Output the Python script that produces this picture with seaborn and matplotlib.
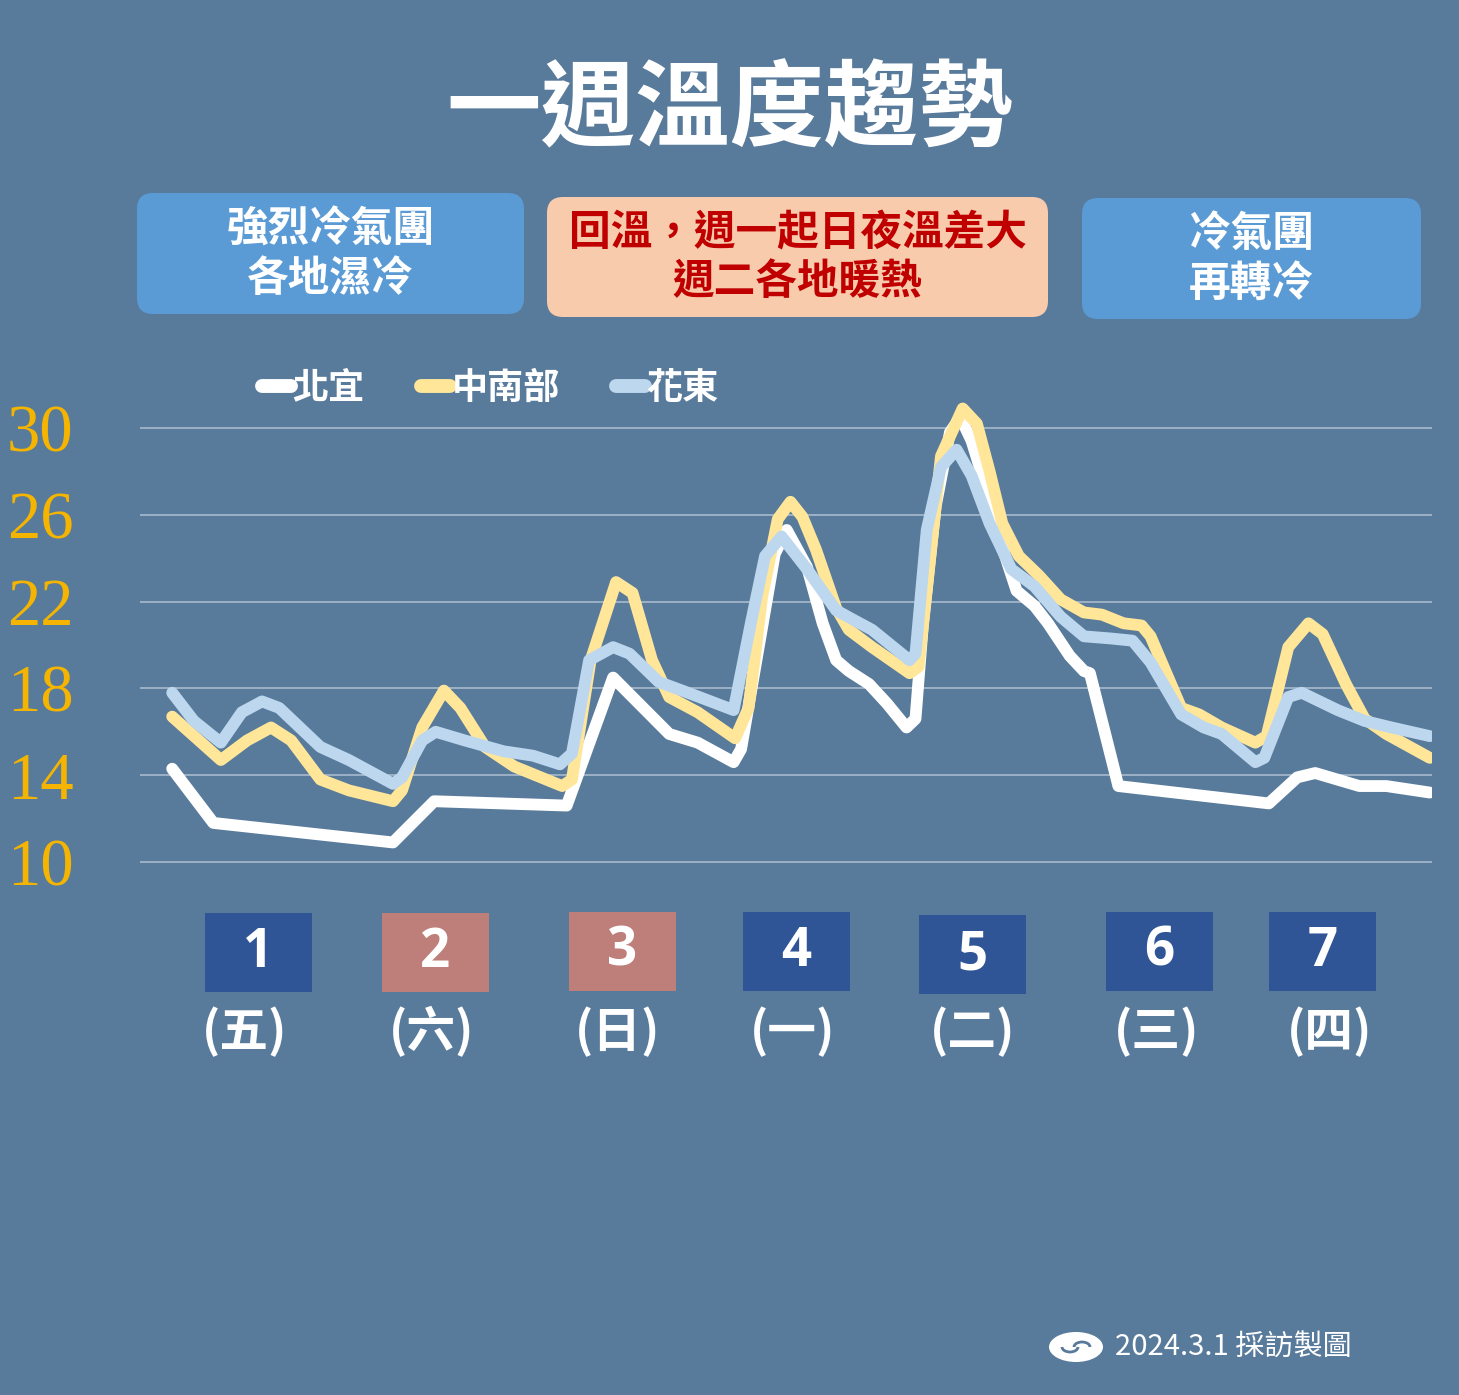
import matplotlib
matplotlib.use("Agg")
import matplotlib.pyplot as plt
from matplotlib.patches import FancyBboxPatch, Rectangle, Ellipse, Arc
import seaborn as sns
import pandas as pd

# 時間 (小時，從第一天起算) 與溫度 (°C)
t_beiyi = [0, 5.5, 29.5, 35.0, 52.7, 58.9, 66.4, 70.2, 75.0, 76.0, 80.5, 82.1, 84.8, 86.9,
           88.7, 90.4, 93.1, 95.5, 98.1, 99.3, 100.3, 102.0, 103.9, 105.3, 106.8, 109.2,
           110.9, 112.8, 115.2, 117.0, 119.9, 121.8, 122.6, 126.4, 146.5, 150.3, 152.7,
           158.6, 162.2, 168.0]
temp_beiyi = [14.3, 11.8, 10.9, 12.8, 12.6, 18.5, 15.9, 15.5, 14.6, 15.2, 24.2, 25.3, 23.6, 21.0,
              19.3, 18.8, 18.2, 17.3, 16.2, 16.6, 21.0, 26.4, 29.8, 30.5, 29.4, 26.7,
              24.5, 22.5, 21.8, 21.0, 19.5, 18.8, 18.7, 13.5, 12.7, 13.9, 14.1,
              13.5, 13.5, 13.2]

t_central = [0, 6.5, 10.0, 13.2, 15.9, 19.8, 23.6, 29.5, 30.7, 33.4, 36.3, 38.5, 41.8, 45.7,
             52.1, 53.4, 55.9, 59.3, 61.5, 64.1, 66.4, 70.2, 75.2, 77.0, 78.8, 80.9, 82.6,
             84.2, 86.0, 88.7, 90.4, 93.5, 98.5, 99.7, 100.8, 102.7, 105.6, 107.5, 109.2,
             110.9, 113.1, 115.8, 118.7, 121.8, 124.2, 127.1, 129.5, 130.7, 134.8, 137.2,
             140.2, 144.7, 146.2, 149.1, 151.8, 153.7, 156.8, 159.3, 162.2, 168.0]
temp_central = [16.7, 14.7, 15.6, 16.2, 15.6, 13.8, 13.3, 12.8, 13.3, 16.2, 17.9, 17.1, 15.3, 14.4,
                13.5, 13.8, 19.3, 22.9, 22.4, 19.3, 17.6, 16.9, 15.7, 17.1, 22.2, 25.8, 26.6,
                25.9, 24.4, 21.7, 20.7, 19.9, 18.7, 19.0, 22.5, 28.7, 30.9, 30.2, 28.0,
                25.6, 24.1, 23.2, 22.1, 21.5, 21.4, 21.0, 20.9, 20.4, 17.1, 16.8,
                16.2, 15.5, 15.8, 19.9, 21.0, 20.5, 18.2, 16.6, 15.9, 14.8]

t_east = [0, 2.9, 6.5, 9.3, 12.0, 14.3, 19.8, 23.6, 29.5, 30.7, 33.4, 35.2, 39.1, 44.3, 48.2,
          51.8, 53.4, 55.7, 58.9, 61.1, 65.0, 68.9, 75.0, 77.3, 79.2, 81.4, 84.8, 88.7, 90.8,
          93.5, 98.5, 99.3, 100.8, 102.7, 104.8, 106.8, 109.2, 112.1, 115.2, 118.7, 121.8,
          125.4, 128.3, 130.7, 134.8, 137.8, 140.2, 144.7, 145.9, 149.1, 150.9, 155.7,
          159.3, 162.9, 168.0]
temp_east = [17.8, 16.5, 15.5, 16.9, 17.4, 17.1, 15.3, 14.7, 13.6, 13.9, 15.6, 16.0, 15.6, 15.1, 14.9,
             14.5, 15.0, 19.3, 19.9, 19.6, 18.3, 17.8, 17.0, 21.0, 24.1, 25.0, 23.5, 21.6, 21.2,
             20.7, 19.3, 19.6, 25.3, 28.2, 29.0, 27.8, 25.6, 23.5, 22.7, 21.3, 20.4,
             20.3, 20.2, 19.2, 16.8, 16.2, 15.9, 14.6, 14.8, 17.6, 17.8, 17.0,
             16.5, 16.2, 15.8]

series_names = ['北宜', '中南部', '花東']
y_ticks = [10, 14, 18, 22, 26, 30]

day_nums = ['1', '2', '3', '4', '5', '6', '7']
weekdays = ['(五)', '(六)', '(日)', '(一)', '(二)', '(三)', '(四)']
is_weekend = [False, True, True, False, False, False, False]

notes = [['強烈冷氣團', '各地濕冷'],
         ['回溫，週一起日夜溫差大', '週二各地暖熱'],
         ['冷氣團', '再轉冷']]

# 顏色
BG = '#587A9B'
line_colors = {'北宜': '#FFFFFF', '中南部': '#FFE699', '花東': '#BDD7EE'}
note_face = ['#5B9BD5', '#F8CBAD', '#5B9BD5']
note_text = ['white', '#C00000', 'white']
GOLD = '#F4B400'

df = pd.concat([
    pd.DataFrame({'時間': t_beiyi, '溫度': temp_beiyi, '地區': '北宜'}),
    pd.DataFrame({'時間': t_central, '溫度': temp_central, '地區': '中南部'}),
    pd.DataFrame({'時間': t_east, '溫度': temp_east, '地區': '花東'}),
], ignore_index=True)

sns.set_theme(style='white')
plt.rcParams['font.family'] = ['Noto Sans CJK TC', 'DejaVu Sans']

W, H = 1459, 1395
fig = plt.figure(figsize=(W / 100, H / 100), dpi=100, facecolor=BG)

# 裝飾層 (像素座標)
deco = fig.add_axes([0, 0, 1, 1], zorder=0)
deco.set_xlim(0, W)
deco.set_ylim(H, 0)
deco.set_axis_off()

# 主圖
ymin, ymax = 9, 31.5
px_per_deg = (862 - 428) / 20
ax_bottom = 862 + (10 - ymin) * px_per_deg
ax_top = 428 - (ymax - 30) * px_per_deg
ax = fig.add_axes([140 / W, 1 - ax_bottom / H, (1432 - 140) / W, (ax_bottom - ax_top) / H], zorder=1)
ax.set_facecolor('none')

sns.lineplot(data=df, x='時間', y='溫度', hue='地區', hue_order=series_names,
             palette=line_colors, linewidth=8.5, estimator=None, sort=False, ax=ax,
             solid_capstyle='round', solid_joinstyle='round')

ax.set_xlim(-4.3, 168.3)
ax.set_ylim(ymin, ymax)
ax.set_xticks([])
ax.set_yticks(y_ticks)
ax.set_xlabel('')
ax.set_ylabel('')
ax.yaxis.grid(True, color='#AFC0D0', linewidth=1.1)
ax.set_axisbelow(True)
sns.despine(ax=ax, left=True, bottom=True)
ax.tick_params(axis='y', length=0, pad=48, labelcolor=GOLD, labelsize=48)
for lbl in ax.get_yticklabels():
    lbl.set_fontfamily('Liberation Serif')

sns.move_legend(ax, 'center left', bbox_to_anchor=(244 / W, 1 - 388 / H),
                bbox_transform=fig.transFigure, ncol=3, title=None, frameon=False,
                handlelength=0.8, handletextpad=0.05, columnspacing=1.55, borderpad=0,
                prop={'size': 26, 'weight': 'bold'}, labelcolor='white')
for h in ax.get_legend().legend_handles:
    h.set_linewidth(10)
    h.set_solid_capstyle('round')

# 標題
deco.text(730, 112, '一週溫度趨勢', ha='center', va='center', color='white',
          fontsize=68, fontweight='bold')

# 說明框
note_boxes = [(137, 193, 387, 121), (547, 197, 501, 120), (1082, 198, 339, 121)]
for (x0, y0, w, h), lines, fc, tc in zip(note_boxes, notes, note_face, note_text):
    deco.add_patch(FancyBboxPatch((x0, y0), w, h, boxstyle='round,pad=0,rounding_size=16',
                                  fc=fc, ec='none'))
    cx = x0 + w / 2
    deco.text(cx, y0 + h * 0.30, lines[0], ha='center', va='center', color=tc,
              fontsize=30, fontweight='bold')
    deco.text(cx, y0 + h * 0.71, lines[1], ha='center', va='center', color=tc,
              fontsize=30, fontweight='bold')

# 日期方塊
day_box_x = [205, 382, 569, 743, 919, 1106, 1269]
day_box_y = [913, 913, 912, 912, 915, 912, 912]
label_x = [245, 432, 618, 793, 973, 1157, 1330]
for i, (n, wd) in enumerate(zip(day_nums, weekdays)):
    fc = '#BE7F7B' if is_weekend[i] else '#2F5597'
    deco.add_patch(Rectangle((day_box_x[i], day_box_y[i]), 107, 79, fc=fc, ec='none'))
    deco.text(day_box_x[i] + 53.5, day_box_y[i] + 40, n, ha='center', va='center',
              color='white', fontsize=38, fontweight='bold', family='Open Sans')
    deco.text(label_x[i], 1032, wd, ha='center', va='center', color='white',
              fontsize=35, fontweight='bold')

# 頁尾
deco.add_patch(Ellipse((1076, 1347), 54, 30, fc='white', ec='none'))
deco.add_patch(Arc((1070, 1347), 16, 10, theta1=0, theta2=180, color=BG, lw=2))
deco.add_patch(Arc((1082, 1347), 16, 10, theta1=180, theta2=360, color=BG, lw=2))
deco.text(1115, 1347, '2024.3.1 採訪製圖', ha='left', va='center', color='white', fontsize=21)

fig.savefig('out.png', dpi=100, facecolor=BG)
